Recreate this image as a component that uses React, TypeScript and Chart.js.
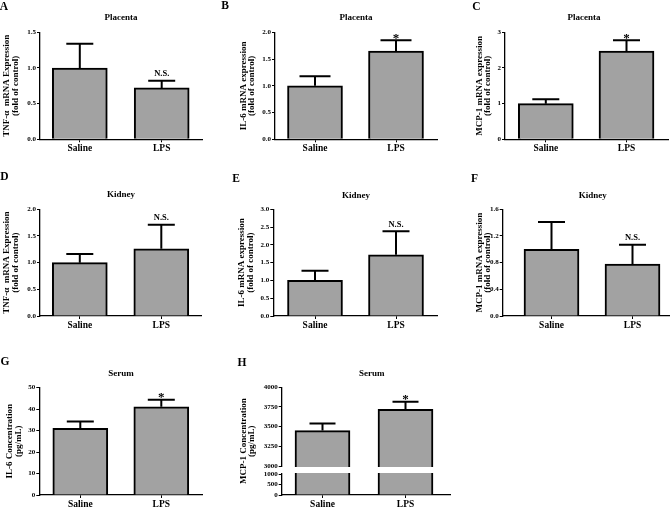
import React, { useEffect, useRef } from 'react';
import { Chart, registerables, LinearScale } from 'chart.js';

// ---------- data ----------
const CATEGORIES = ['Saline', 'LPS'];

const A_MEAN = [1.0, 0.72];
const A_SEM = [0.34, 0.1];
const A_TICKS = [0, 0.5, 1.0, 1.5];
const A_MARKS = ['', 'N.S.'];

const B_MEAN = [1.0, 1.65];
const B_SEM = [0.18, 0.2];
const B_TICKS = [0, 0.5, 1.0, 1.5, 2.0];
const B_MARKS = ['', '*'];

const C_MEAN = [1.0, 2.47];
const C_SEM = [0.12, 0.31];
const C_TICKS = [0, 1, 2, 3];
const C_MARKS = ['', '*'];

const D_MEAN = [1.0, 1.26];
const D_SEM = [0.16, 0.45];
const D_TICKS = [0, 0.5, 1.0, 1.5, 2.0];
const D_MARKS = ['', 'N.S.'];

const E_MEAN = [1.0, 1.72];
const E_SEM = [0.27, 0.66];
const E_TICKS = [0, 0.5, 1.0, 1.5, 2.0, 2.5, 3.0];
const E_MARKS = ['', 'N.S.'];

const F_MEAN = [1.0, 0.78];
const F_SEM = [0.41, 0.29];
const F_TICKS = [0, 0.4, 0.8, 1.2, 1.6];
const F_MARKS = ['', 'N.S.'];

const G_MEAN = [31, 41];
const G_SEM = [3.2, 3.3];
const G_TICKS = [0, 10, 20, 30, 40, 50];
const G_MARKS = ['', '*'];

const H_MEAN = [3450, 3720];
const H_SEM = [90, 95];
const H_TICKS = [0, 500, 1000, 3000, 3250, 3500, 3750, 4000];
const H_MARKS = ['', '*'];
const H_BREAK = [1000, 3000];

// ---------- broken axis scale ----------
class BrokenLinearScale extends LinearScale {
  static id = 'brokenLinear';
  static defaults = {};
  getPixelForValue(value: number) {
    const o: any = this.options;
    const lo = o.breakLow, hi = o.breakHigh, fLo = o.breakLowFrac, fHi = o.breakHighFrac;
    let d: number;
    if (value <= lo) d = ((value - this.min) / (lo - this.min)) * fLo;
    else if (value >= hi) d = fHi + ((value - hi) / (this.max - hi)) * (1 - fHi);
    else d = fLo + ((value - lo) / (hi - lo)) * (fHi - fLo);
    return this.getPixelForDecimal(d);
  }
}

Chart.register(...registerables);
Chart.register(BrokenLinearScale as any);

const FONT = '"Liberation Serif", "Times New Roman", serif';
Chart.defaults.font.family = FONT;
Chart.defaults.color = '#000';

type PanelCfg = {
  letter: string; title: string; yTitle: string[];
  mean: number[]; sem: number[]; ticks: number[]; marks: string[]; yMax: number; dec: number;
  cx: number; cy: number; cw: number; ch: number;
  L: number; T: number; R: number; B: number; c0: number; c1: number;
  titleX: number; titleY: number; letterX: number; letterY: number;
  yPad: number; cap: number; broken?: boolean;
};

const FOLD = '(fold of control)';
const PANELS: PanelCfg[] = [
  { letter: 'A', title: 'Placenta', yTitle: ['TNF-\u03b1  mRNA Expression', FOLD], mean: A_MEAN, sem: A_SEM, ticks: A_TICKS, marks: A_MARKS, yMax: 1.5, dec: 1,
    cx: 0, cy: 0, cw: 222, ch: 168, L: 40, T: 32.3, R: 202, B: 139.3, c0: 79.8, c1: 161.7, titleX: 121, titleY: 17.3, letterX: 4, letterY: 7, yPad: 2.7, cap: 27 },
  { letter: 'B', title: 'Placenta', yTitle: ['IL-6 mRNA expression', FOLD], mean: B_MEAN, sem: B_SEM, ticks: B_TICKS, marks: B_MARKS, yMax: 2, dec: 1,
    cx: 222, cy: 0, cw: 218, ch: 168, L: 275, T: 32.3, R: 437, B: 139.3, c0: 315, c1: 396, titleX: 356, titleY: 17, letterX: 225, letterY: 5.5, yPad: 17, cap: 31 },
  { letter: 'C', title: 'Placenta', yTitle: ['MCP-1 mRNA expression', FOLD], mean: C_MEAN, sem: C_SEM, ticks: C_TICKS, marks: C_MARKS, yMax: 3, dec: 0,
    cx: 440, cy: 0, cw: 230, ch: 168, L: 505, T: 32.3, R: 668, B: 139.3, c0: 545.8, c1: 626.5, titleX: 584, titleY: 17, letterX: 476.5, letterY: 6.7, yPad: 35, cap: 27 },
  { letter: 'D', title: 'Kidney', yTitle: ['TNF-\u03b1  mRNA Expression', FOLD], mean: D_MEAN, sem: D_SEM, ticks: D_TICKS, marks: D_MARKS, yMax: 2, dec: 1,
    cx: 0, cy: 168, cw: 222, ch: 170, L: 40, T: 209.3, R: 201, B: 316, c0: 79.8, c1: 161.3, titleX: 121, titleY: 194.3, letterX: 4.5, letterY: 177, yPad: 2.7, cap: 27 },
  { letter: 'E', title: 'Kidney', yTitle: ['IL-6 mRNA expression', FOLD], mean: E_MEAN, sem: E_SEM, ticks: E_TICKS, marks: E_MARKS, yMax: 3, dec: 1,
    cx: 222, cy: 168, cw: 218, ch: 170, L: 273.3, T: 209.3, R: 437, B: 316, c0: 315, c1: 396, titleX: 356, titleY: 195, letterX: 236, letterY: 179, yPad: 15.4, cap: 27 },
  { letter: 'F', title: 'Kidney', yTitle: ['MCP-1 mRNA expression', FOLD], mean: F_MEAN, sem: F_SEM, ticks: F_TICKS, marks: F_MARKS, yMax: 1.6, dec: 1,
    cx: 440, cy: 168, cw: 230, ch: 170, L: 502.7, T: 209.3, R: 670, B: 316, c0: 551.5, c1: 632.5, titleX: 592.7, titleY: 195, letterX: 474.5, letterY: 179, yPad: 35, cap: 27 },
  { letter: 'G', title: 'Serum', yTitle: ['IL-6 Concentration', '(pg/mL)'], mean: G_MEAN, sem: G_SEM, ticks: G_TICKS, marks: G_MARKS, yMax: 50, dec: 0,
    cx: 0, cy: 338, cw: 222, ch: 169, L: 39.3, T: 387.5, R: 202, B: 495, c0: 80.3, c1: 161.3, titleX: 121, titleY: 372.7, letterX: 5, letterY: 362, yPad: 5.7, cap: 27 },
  { letter: 'H', title: 'Serum', yTitle: ['MCP-1 Concentration', '(pg/mL)'], mean: H_MEAN, sem: H_SEM, ticks: H_TICKS, marks: H_MARKS, yMax: 4000, dec: 0,
    cx: 222, cy: 338, cw: 240, ch: 169, L: 281.7, T: 387.3, R: 450, B: 495, c0: 322.5, c1: 405.5, titleX: 371.7, titleY: 372.7, letterX: 242, letterY: 362.5, yPad: 17, cap: 26, broken: true },
];

function Panel({ p }: { p: PanelCfg }) {
  const ref = useRef<HTMLCanvasElement>(null);
  useEffect(() => {
    const canvas = ref.current!;
    const s = p.c1 - p.c0;
    const xMin = (p.L - p.c0) / s;
    const xMax = (p.R - p.c0) / s;
    const plotH = p.B - p.T;

    const errorPlugin = {
      id: 'errorBars',
      afterDatasetsDraw(chart: any) {
        const ctx = chart.ctx;
        const meta = chart.getDatasetMeta(0);
        const y = chart.scales.y;
        ctx.save();
        ctx.strokeStyle = '#000';
        ctx.lineWidth = 2;
        meta.data.forEach((bar: any, i: number) => {
          const x = bar.x;
          const yTop = y.getPixelForValue(p.mean[i] + p.sem[i]);
          ctx.beginPath();
          ctx.moveTo(x, bar.y);
          ctx.lineTo(x, yTop);
          ctx.moveTo(x - p.cap / 2, yTop);
          ctx.lineTo(x + p.cap / 2, yTop);
          ctx.stroke();
          const m = p.marks[i];
          if (m) {
            ctx.fillStyle = '#000';
            ctx.textAlign = 'center';
            ctx.textBaseline = 'alphabetic';
            if (m === '*') {
              ctx.font = `bold 13px ${FONT}`;
              ctx.fillText(m, x, yTop + 1.5);
            } else {
              ctx.font = `bold 8.5px ${FONT}`;
              ctx.fillText(m, x, yTop - 4.5);
            }
          }
        });
        ctx.restore();
      },
      afterDraw(chart: any) {
        if (!p.broken) return;
        const ctx = chart.ctx;
        const y = chart.scales.y;
        const a = chart.chartArea;
        const yHi = y.getPixelForValue(H_BREAK[1]);
        const yLo = y.getPixelForValue(H_BREAK[0]);
        ctx.save();
        ctx.fillStyle = '#fff';
        ctx.fillRect(a.left - 1.5, yHi + 1, a.right - a.left + 3, yLo - yHi - 2);
        ctx.restore();
      },
    };

    const yScale: any = {
      type: p.broken ? 'brokenLinear' : 'linear',
      min: 0,
      max: p.yMax,
      afterBuildTicks: (sc: any) => { sc.ticks = p.ticks.map((v) => ({ value: v })); },
      ticks: {
        callback: (v: any) => Number(v).toFixed(p.dec),
        font: { size: 7, weight: 'bold' },
        color: '#000',
        padding: 1,
        autoSkip: false,
      },
      grid: { drawOnChartArea: false, drawTicks: true, tickLength: 3, color: '#000', lineWidth: 1 },
      border: { display: true, color: '#000', width: 1.3 },
      title: {
        display: true,
        text: p.yTitle,
        font: { size: 9, weight: 'bold', lineHeight: 0.95 },
        color: '#000',
        padding: { top: p.yPad, bottom: 0 },
      },
      afterFit: (sc: any) => { sc.width = p.L - p.cx; },
    };
    if (p.broken) {
      yScale.breakLow = H_BREAK[0];
      yScale.breakHigh = H_BREAK[1];
      yScale.breakLowFrac = (p.B - 474) / plotH;
      yScale.breakHighFrac = (p.B - 466) / plotH;
    }

    const chart = new Chart(canvas, {
      type: 'bar',
      data: {
        datasets: [
          {
            data: CATEGORIES.map((_, i) => ({ x: i, y: p.mean[i] })),
            backgroundColor: '#a2a2a2',
            borderColor: '#000',
            borderWidth: 2,
            barThickness: 55,
          } as any,
        ],
      },
      options: {
        responsive: false,
        animation: false,
        devicePixelRatio: 1,
        events: [],
        layout: { padding: { left: 0, top: p.T - p.cy, right: p.cx + p.cw - p.R, bottom: 0 } },
        plugins: { legend: { display: false }, tooltip: { enabled: false }, title: { display: false } },
        scales: {
          x: {
            type: 'linear',
            min: xMin,
            max: xMax,
            offset: false,
            afterBuildTicks: (sc: any) => { sc.ticks = CATEGORIES.map((_, i) => ({ value: i })); },
            ticks: {
              callback: (_v: any, i: number) => CATEGORIES[i],
              font: { size: 9.5, weight: 'bold' },
              color: '#000',
              padding: 0.5,
              autoSkip: false,
              maxRotation: 0,
            },
            grid: { offset: false, drawOnChartArea: false, drawTicks: true, tickLength: 3, color: '#000', lineWidth: 1 },
            border: { display: true, color: '#000', width: 1.3 },
            afterFit: (sc: any) => { sc.height = p.cy + p.ch - p.B; },
          } as any,
          y: yScale,
        },
      } as any,
      plugins: [errorPlugin as any],
    });
    return () => chart.destroy();
  }, [p]);

  const txt = (x: number, y: number, size: number): React.CSSProperties => ({
    position: 'absolute',
    left: x,
    top: y,
    transform: 'translate(-50%, -50%)',
    fontFamily: FONT,
    fontWeight: 'bold',
    fontSize: size,
    lineHeight: 1,
    whiteSpace: 'nowrap',
    color: '#000',
  });

  return (
    <>
      <canvas
        ref={ref}
        width={p.cw}
        height={p.ch}
        style={{ position: 'absolute', left: p.cx, top: p.cy, width: p.cw, height: p.ch, display: 'block' }}
      />
      <div style={txt(p.letterX, p.letterY, 11.5)}>{p.letter}</div>
      <div style={txt(p.titleX, p.titleY, 9)}>{p.title}</div>
    </>
  );
}

export default function App() {
  return (
    <div
      style={{
        position: 'fixed',
        left: 0,
        top: 0,
        width: 670,
        height: 507,
        background: '#fff',
        overflow: 'hidden',
      }}
    >
      {PANELS.map((p) => (
        <Panel key={p.letter} p={p} />
      ))}
    </div>
  );
}
